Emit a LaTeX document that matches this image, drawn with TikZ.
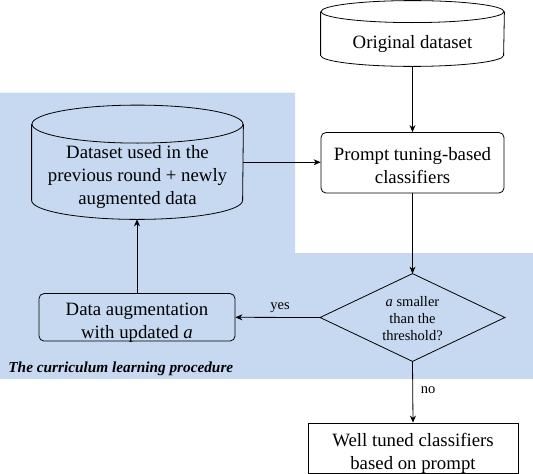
\documentclass[tikz,border=0pt]{standalone}
\usepackage{fontspec}
\setmainfont{Liberation Serif}
\usetikzlibrary{arrows.meta}
\definecolor{cblue}{RGB}{198,217,240}
\begin{document}
\begin{tikzpicture}[x=1pt,y=1pt,
  line width=0.8pt,
  big/.style={font=\fontsize{18.8}{23}\selectfont, align=center, inner sep=0pt},
  small/.style={font=\fontsize{14.5}{17}\selectfont, align=center, inner sep=0pt},
  frame/.style={inner sep=0pt},
  rbox/.style={draw, rounded corners=5pt, inner sep=0pt},
  sbox/.style={draw, inner sep=0pt},
  arr/.style={-{Stealth[length=7pt,width=6pt]}}
]
\useasboundingbox (0,0) rectangle (533,-474);
% blue region
\fill[cblue] (0,-92.5) -- (295,-92.5) -- (295,-253) -- (533,-253) -- (533,-379) -- (0,-379) -- cycle;

% Original dataset cylinder
\node[frame, minimum width=183pt, minimum height=65pt] (orig) at (412.5,-33.5) {};
\draw ([yshift=-11pt]orig.north) ellipse[x radius=91.5pt, y radius=11pt];
\draw ([yshift=-11pt]orig.north west) -- ([yshift=11pt]orig.south west)
  arc[start angle=180, end angle=360, x radius=91.5pt, y radius=11pt]
  -- ([yshift=-11pt]orig.north east);
\node[big] (origt) at (412.5,-44) {Original dataset};

% Dataset cylinder
\node[frame, minimum width=211pt, minimum height=113.5pt] (data) at (137.5,-162.25) {};
\draw ([yshift=-19pt]data.north) ellipse[x radius=105.5pt, y radius=19pt];
\draw ([yshift=-19pt]data.north west) -- ([yshift=19pt]data.south west)
  arc[start angle=180, end angle=360, x radius=105.5pt, y radius=19pt]
  -- ([yshift=-19pt]data.north east);
\node[big] (datat) at (137.5,-177) {Dataset used in the\\previous round + newly\\augmented data};

% Prompt box
\node[rbox, minimum width=183pt, minimum height=60.5pt] (prompt) at (412.5,-162.75) {};
\node[big] (promptt) at (412.5,-166) {Prompt tuning-based\\classifiers};

% Decision diamond
\node[frame, minimum width=184pt, minimum height=87pt] (dec) at (412.5,-317.5) {};
\draw (dec.north) -- (dec.east) -- (dec.south) -- (dec.west) -- cycle;
\node[small] (dect) at (412.5,-318.5) {\textit{a} smaller\\than the\\threshold?};

% Data augmentation box
\node[rbox, minimum width=196pt, minimum height=47.5pt] (aug) at (137,-317.3) {};
\node[big] (augt) at (137,-323) {Data augmentation\\with updated \textit{a}};

% Well tuned box
\node[sbox, minimum width=210pt, minimum height=50pt] (well) at (413,-448) {};
\node[big] (wellt) at (413,-453) {Well tuned classifiers\\based on prompt};

% label
\node[anchor=west, inner sep=0pt, font=\fontsize{15.3}{18}\selectfont\bfseries\itshape] (lab) at (8,-369) {The curriculum learning procedure};

% connectors
\draw[arr] (orig.south) -- (prompt.north);
\draw[arr] (data.east) -- (data.east -| prompt.west);
\draw[arr] (prompt.south) -- (dec.north);
\draw[arr] (dec.west) -- (aug.east);
\node[small] (yes) at (280,-308) {yes};
\draw[arr] (aug.north) -- (aug.north |- data.south);
\draw[arr] (dec.south) -- (well.north);
\node[small] (no) at (428,-390) {no};
\end{tikzpicture}
\end{document}
